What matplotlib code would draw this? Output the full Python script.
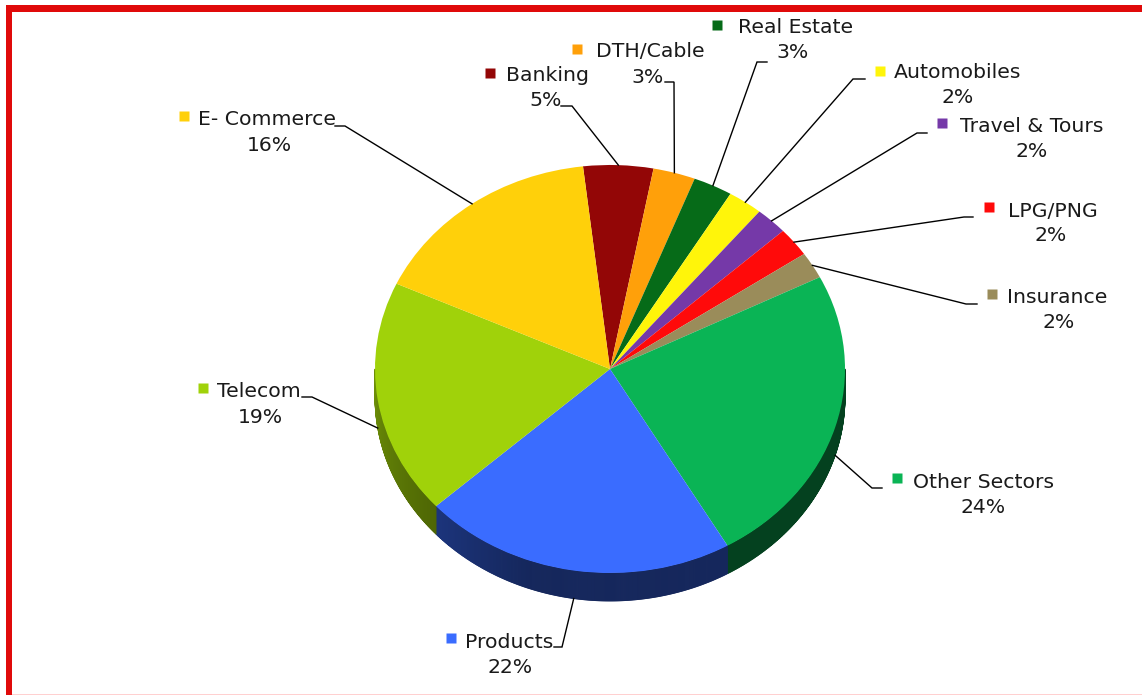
import numpy as np
import matplotlib
matplotlib.use("Agg")
import matplotlib.pyplot as plt
from matplotlib.patches import Rectangle
from matplotlib.collections import PolyCollection

# ---------------- data ----------------
categories = ["Banking", "DTH/Cable", "Real Estate", "Automobiles", "Travel & Tours",
              "LPG/PNG", "Insurance", "Other Sectors", "Products", "Telecom", "E- Commerce"]
values = [4.8, 2.9, 2.7, 2.4, 2.2, 2.3, 2.1, 24.1, 21.6, 18.6, 16.3]
colors = ["#930606", "#FFA00A", "#066B18", "#FFF50A", "#7539A8", "#FF0A0A",
          "#9A8C5A", "#0AB455", "#3A6CFF", "#A0D20A", "#FFD00A"]

# ---------------- layout (pixels, from top-left) ----------------
W, H = 1142, 695
CX, CY, RX, RY = 610, 369, 235, 204
DEPTH = 28
START = -6.6   # degrees clockwise from 12 o'clock

# marker centre, name (left x, baseline), pct (centre x, baseline), leader (text end, elbow)
label_layout = {
    "Banking":        ((490.5, 73.0), (506, 81), (545.5, 106), ((561, 106), (572, 106))),
    "DTH/Cable":      ((577.5, 49.0), (596, 57), (647.5, 83), ((665, 82), (674, 82))),
    "Real Estate":    ((717.0, 24.5), (738, 33), (792.5, 58), ((767, 62), (757, 62))),
    "Automobiles":    ((880.0, 71.0), (894, 78), (957.5, 103), ((865, 79), (853, 79))),
    "Travel & Tours": ((942.5, 123.0), (960, 132), (1032, 157), ((927, 133), (917, 133))),
    "LPG/PNG":        ((989.5, 207.0), (1008, 217), (1050.5, 241), ((973, 217), (964, 217))),
    "Insurance":      ((992.5, 293.5), (1007, 303), (1058.5, 328), ((977, 304), (966, 304))),
    "Other Sectors":  ((897.5, 478.0), (913, 488), (983.5, 513), ((882, 488), (872, 488))),
    "Products":       ((451.5, 637.5), (465, 648), (510, 673), ((554, 647), (562, 647))),
    "Telecom":        ((203.5, 388.0), (217, 397), (260.5, 423), ((302, 397), (312, 397))),
    "E- Commerce":    ((184.5, 116.0), (198, 125), (269, 151), ((335, 126), (345, 126))),
}


def to_data(px, py):
    return (px - CX) / RX, (CY - py) / RY


fig = plt.figure(figsize=(W / 100, H / 100), dpi=100)
fig.patch.set_facecolor("white")
ax = fig.add_axes([0, 0, 1, 1])

# top face of the pie
wedges, _ = ax.pie(values, colors=colors, startangle=90 - START, counterclock=False,
                   wedgeprops=dict(linewidth=0), radius=1)
for w in wedges:
    w.set_zorder(2)
ax.set_aspect("auto")
ax.set_xlim(-CX / RX, (W - CX) / RX)
ax.set_ylim((CY - H) / RY, CY / RY)
ax.axis("off")

# side (depth) of the pie, front half
frac = np.array(values) / np.sum(values)
bounds = START + 360 * np.concatenate([[0], np.cumsum(frac)])
d = DEPTH / RY
th = np.linspace(90, 270, 721)
polys, fcs = [], []
for t0, t1 in zip(th[:-1], th[1:]):
    tm = 0.5 * (t0 + t1)
    i = int(np.searchsorted(bounds, tm) - 1)
    r0, r1 = np.radians(t0), np.radians(t1)
    x0, y0 = np.sin(r0), np.cos(r0)
    x1, y1 = np.sin(r1), np.cos(r1)
    polys.append([(x0, y0), (x1, y1), (x1, y1 - d), (x0, y0 - d)])
    shade = 0.36 + 0.32 * max(0.0, (tm - 200) / 70.0)
    rgb = np.array(matplotlib.colors.to_rgb(colors[i])) * shade
    fcs.append(rgb)
side = PolyCollection(polys, facecolors=fcs, edgecolors=fcs, linewidths=0.6, zorder=1)
ax.add_collection(side)

# labels + leader lines
mids = START + 360 * (np.cumsum(frac) - frac / 2)
for cat, val, col, mid in zip(categories, values, colors, mids):
    (mx, my), (nx, nb), (pcx, pb), (p_text, p_elbow) = label_layout[cat]
    r = np.radians(mid)
    ax_, ay_ = np.sin(r), np.cos(r)
    if 90 < (mid % 360) < 270:
        ay_ -= d
    tx, ty = to_data(*p_text)
    ex, ey = to_data(*p_elbow)
    ax.plot([tx, ex, ax_], [ty, ey, ay_], color="black", lw=1.0, zorder=3,
            solid_joinstyle="miter")
    mxd, myd = to_data(mx, my)
    ax.plot([mxd], [myd], marker="s", ms=7.9, color=col, mec="none", zorder=4)
    ax.text(*to_data(nx, nb), cat, fontsize=14.7, color="#1a1a1a",
            ha="left", va="baseline", zorder=4)
    ax.text(*to_data(pcx, pb), f"{round(val)}%", fontsize=14.7, color="#1a1a1a",
            ha="center", va="baseline", zorder=4)

# border
red = "#E00A0A"
fig.add_artist(Rectangle((6 / W, 0), 6.3 / W, (H - 5) / H, transform=fig.transFigure,
                         facecolor=red, edgecolor="none"))
fig.add_artist(Rectangle((6 / W, 1 - 11.7 / H), (W - 6) / W, 6.7 / H, transform=fig.transFigure,
                         facecolor=red, edgecolor="none"))
fig.add_artist(Rectangle((12 / W, 0), (W - 12) / W, 1.5 / H, transform=fig.transFigure,
                         facecolor="#FFD0D0", edgecolor="none"))

fig.savefig("out.png", dpi=100, facecolor="white")
